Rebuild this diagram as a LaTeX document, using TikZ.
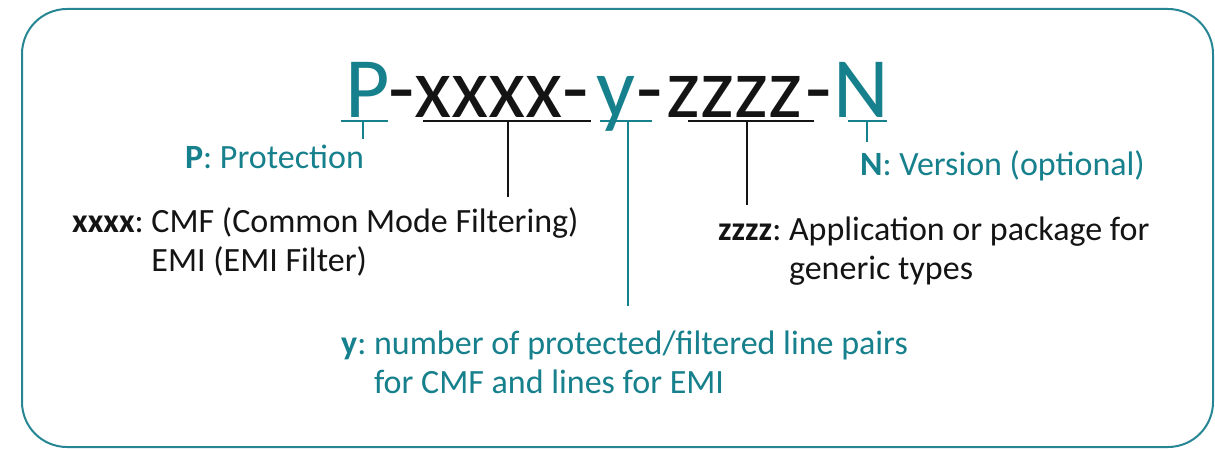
\documentclass[tikz,border=0pt]{standalone}
\usepackage{fontspec}
\setmainfont{Carlito}
\usepackage{tikz}
\usetikzlibrary{positioning,calc}
\definecolor{pnteal}{RGB}{22,128,140}
\definecolor{pnframecol}{RGB}{38,134,148}
\definecolor{pnink}{RGB}{20,20,20}
\frenchspacing
\tikzset{
  pncode/.style={
    anchor=base west, inner sep=0pt, text=pnink,
    font=\fontsize{86}{90}\selectfont
  },
  pncodeteal/.style={pncode,text=pnteal},
  pnlabel/.style={
    anchor=base west, inner sep=0pt, align=left, text=pnink,
    font=\fontsize{34}{39}\selectfont
  },
  pnlabelteal/.style={pnlabel,text=pnteal},
  pnrule/.style={draw=pnink,line width=2pt},
  pnruleteal/.style={draw=pnteal,line width=2pt},
  pnframe/.style={draw=pnframecol,line width=2pt,rounded corners=45pt}
}

\begin{document}
\begin{tikzpicture}[x=1pt,y=-1pt]
  \useasboundingbox (0,0) rectangle (1215,449);
  \draw[pnframe] (22,9) rectangle (1213,447);
  % part number, one node per field
  \node[pncodeteal] (cP) at (345,118) {P};
  \node[pncode] (h1) at (388,118) {-};
  \node[pncode] (cX) at (414,118) {xxxx};
  \node[pncode] (h2) at (562,118) {-};
  \node[pncodeteal] (cY) at (596,118) {y};
  \node[pncode] (h3) at (636,118) {-};
  \node[pncode] (cZ) at (666,118) {zzzz};
  \node[pncode] (h4) at (805,118) {-};
  \node[pncodeteal] (cN) at (833,118) {N};
  % meaning of each field (base = last line)
  \node[pnlabelteal,anchor=base east] (lblP) at (364,169) {\textbf{P}: Protection};
  \node[pnlabel] (lblX) at (72,271) {\textbf{xxxx}: CMF (Common Mode Filtering)\\\phantom{\textbf{xxxx}: }EMI (EMI Filter)};
  \node[pnlabelteal] (lblY) at (341,393) {\textbf{y}: number of protected/filtered line pairs\\\phantom{\textbf{y}: }for CMF and lines for EMI};
  \node[pnlabel] (lblZ) at (718,279) {\textbf{zzzz}: Application or package for\\\phantom{\textbf{zzzz}: }generic types};
  \node[pnlabelteal] (lblN) at (860,176) {\textbf{N}: Version (optional)};
  % underlines
  \coordinate (uP) at (363,121);
  \coordinate (uX) at (508,121);
  \coordinate (uY) at (628,121);
  \coordinate (uZ) at (747,121);
  \coordinate (uN) at (867,121);
  \draw[pnruleteal] (341,121) -- (388,121);
  \draw[pnrule] (423,121) -- (591,121);
  \draw[pnruleteal] (600,121) -- (652,121);
  \draw[pnrule] (688,121) -- (814,121);
  \draw[pnruleteal] (848,121) -- (887,121);
  % ticks down to the labels
  \draw[pnruleteal] (uP) -- ([yshift=6pt]uP |- lblP.north);
  \draw[pnrule] (uX) -- ([yshift=10pt]uX |- lblX.north);
  \draw[pnruleteal] (uY) -- ([yshift=24pt]uY |- lblY.north);
  \draw[pnrule] (uZ) -- ([yshift=11pt]uZ |- lblZ.north);
  \draw[pnruleteal] (uN) -- ([yshift=9pt]uN |- lblN.north);
\end{tikzpicture}
\end{document}
